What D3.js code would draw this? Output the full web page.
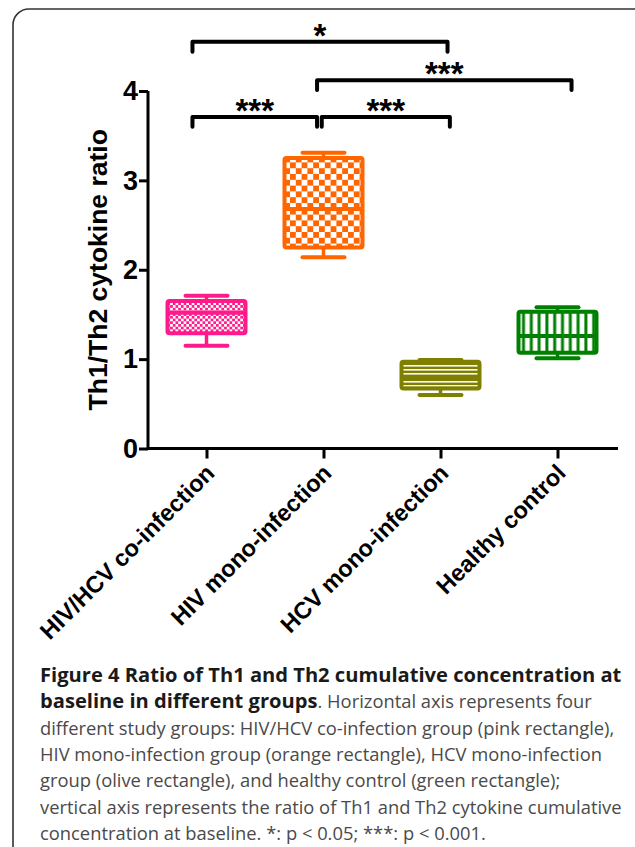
<!DOCTYPE html>
<html><head><meta charset="utf-8">
<script src="https://cdn.jsdelivr.net/npm/d3@7"></script>
<style>body{margin:0;background:#fff}svg{display:block}</style>
</head><body><svg id="c" width="635" height="847"></svg>
<script>
const categories = ["HIV/HCV co-infection","HIV mono-infection","HCV mono-infection","Healthy control"];
const mins    = [1.15, 2.14, 0.60, 1.01];
const q1s     = [1.29, 2.25, 0.67, 1.07];
const medians = [1.52, 2.68, 0.80, 1.26];
const q3s     = [1.65, 3.25, 0.97, 1.53];
const maxs    = [1.71, 3.31, 0.99, 1.58];
const colors  = ["#ff1a8c","#ff6600","#808000","#008000"];
const patterns = ["fineCheck","bigCheck","hLines","vLines"];
const yTicks = [0,1,2,3,4];
const yLabel = "Th1/Th2 cytokine ratio";
// significance brackets: from/to in category units, level in y units
const brFrom  = [-0.12, 0.945, -0.12, 0.985];
const brTo    = [2.06, 3.12, 0.945, 2.08];
const brLevel = [4.55, 4.12, 3.71, 3.71];
const brLabel = ["*","***","***","***"];

const svg = d3.select("#c");
// frame
svg.append("rect").attr("x",13).attr("y",9).attr("width",660).attr("height",900)
  .attr("rx",16).attr("fill","none").attr("stroke","#333").attr("stroke-width",1.6);

const y = d3.scaleLinear().domain([0,4]).range([448.5,91]);
const xi = d3.scaleLinear().domain([-0.5,3.5]).range([148,616]);
const x = d3.scalePoint().domain(categories).range([148,616]).padding(0.5);

// patterns
const defs = svg.append("defs");
function pat(id, w, h){ return defs.append("pattern").attr("id",id).attr("patternUnits","userSpaceOnUse").attr("width",w).attr("height",h); }
let p = pat("fineCheck",5.4,5.4);
p.append("rect").attr("width",5.4).attr("height",5.4).attr("fill","#fff");
p.append("rect").attr("width",2.7).attr("height",2.7).attr("fill",colors[0]);
p.append("rect").attr("x",2.7).attr("y",2.7).attr("width",2.7).attr("height",2.7).attr("fill",colors[0]);
p = pat("bigCheck",11.6,11.6);
p.append("rect").attr("width",11.6).attr("height",11.6).attr("fill","#fff");
p.append("rect").attr("width",5.8).attr("height",5.8).attr("fill",colors[1]);
p.append("rect").attr("x",5.8).attr("y",5.8).attr("width",5.8).attr("height",5.8).attr("fill",colors[1]);
p = pat("hLines",10,4);
p.append("rect").attr("width",10).attr("height",4).attr("fill",colors[2]);
p.append("rect").attr("y",1).attr("width",10).attr("height",1.6).attr("fill","#fff");
p = pat("vLines",7.8,10);
p.append("rect").attr("width",7.8).attr("height",10).attr("fill",colors[3]);
p.append("rect").attr("x",2.4).attr("width",4.8).attr("height",10).attr("fill","#fff");

// boxes
const bw = 78, cw = 42;
categories.forEach((c,i)=>{
  const g = svg.append("g");
  const cx = x(c), col = colors[i];
  g.append("line").attr("x1",cx).attr("x2",cx).attr("y1",y(maxs[i])).attr("y2",y(q3s[i]))
    .attr("stroke",col).attr("stroke-width",3.5);
  g.append("line").attr("x1",cx).attr("x2",cx).attr("y1",y(q1s[i])).attr("y2",y(mins[i]))
    .attr("stroke",col).attr("stroke-width",3.5);
  [maxs[i],mins[i]].forEach(v=>g.append("line").attr("x1",cx-cw/2).attr("x2",cx+cw/2)
    .attr("y1",y(v)).attr("y2",y(v)).attr("stroke",col).attr("stroke-width",4).attr("stroke-linecap","round"));
  g.append("rect").attr("x",cx-bw/2).attr("y",y(q3s[i])).attr("width",bw).attr("height",y(q1s[i])-y(q3s[i]))
    .attr("fill",`url(#${patterns[i]})`).attr("stroke",col).attr("stroke-width",4).attr("rx",2);
  g.append("line").attr("x1",cx-bw/2).attr("x2",cx+bw/2).attr("y1",y(medians[i])).attr("y2",y(medians[i]))
    .attr("stroke",col).attr("stroke-width",4);
});

// axes
const font = "'Liberation Sans', Arial, sans-serif";
const yAxis = svg.append("g").attr("transform","translate(148,0)")
  .call(d3.axisLeft(y).tickValues(yTicks).tickSize(9).tickPadding(1).tickFormat(d3.format("d")));
yAxis.select(".domain").attr("d",`M0,${y(4)}V${y(0)}`).attr("stroke","#000").attr("stroke-width",3);
yAxis.selectAll(".tick line").attr("stroke","#000").attr("stroke-width",3);
yAxis.selectAll(".tick text").attr("font-family",font).attr("font-weight","bold").attr("font-size",27).attr("fill","#000");

const xAxis = svg.append("g").attr("transform",`translate(0,${y(0)})`)
  .call(d3.axisBottom(x).tickSize(10).tickFormat(""));
xAxis.select(".domain").attr("d",`M147,0H618`).attr("stroke","#000").attr("stroke-width",3);
xAxis.selectAll(".tick line").attr("stroke","#000").attr("stroke-width",3);
xAxis.selectAll(".tick").append("text")
  .attr("transform","translate(9,26) rotate(-45)")
  .attr("text-anchor","end").attr("font-family",font).attr("font-weight","bold").attr("font-size",23.5)
  .attr("fill","#000").text(d=>d);

svg.append("text").attr("transform",`translate(107,${(y(0)+y(4))/2}) rotate(-90)`)
  .attr("text-anchor","middle").attr("font-family",font).attr("font-weight","bold").attr("font-size",26.5)
  .text(yLabel);

// brackets
const tick = 0.11;
brLabel.forEach((lab,i)=>{
  const x1 = xi(brFrom[i]), x2 = xi(brTo[i]), yy = y(brLevel[i]), yd = y(brLevel[i]-tick);
  svg.append("path").attr("d",`M${x1},${yd}V${yy}H${x2}V${yd}`).attr("fill","none")
    .attr("stroke","#000").attr("stroke-width",4).attr("stroke-linecap","round").attr("stroke-linejoin","round");
  svg.append("text").attr("x",(x1+x2)/2).attr("y",yy+5).attr("text-anchor","middle")
    .attr("font-family",font).attr("font-weight","bold").attr("font-size",33).text(lab);
});

// caption
const capFont = "'Open Sans', sans-serif";
const capLines = [
  [["Figure 4 Ratio of Th1 and Th2 cumulative concentration at",true]],
  [["baseline in different groups",true],[". Horizontal axis represents four",false]],
  [["different study groups: HIV/HCV co-infection group (pink rectangle),",false]],
  [["HIV mono-infection group (orange rectangle), HCV mono-infection",false]],
  [["group (olive rectangle), and healthy control (green rectangle);",false]],
  [["vertical axis represents the ratio of Th1 and Th2 cytokine cumulative",false]],
  [["concentration at baseline. *: p < 0.05; ***: p < 0.001.",false]]
];
const texts = capLines.map((ln,i)=>{
  const t = svg.append("text").attr("x",40).attr("y",682+i*26.3).attr("font-family",capFont);
  ln.forEach(([s,b])=>t.append("tspan").attr("class",b?"b":"n").attr("font-weight",b?"bold":"normal")
    .attr("font-size",b?20:19.5).attr("fill",b?"#1a1a1a":"#4a4a4a").text(s));
  return t;
});
// fit normal text so the longest lines span to the right margin
const w3 = texts[2].node().getComputedTextLength();
const w6 = texts[5].node().getComputedTextLength();
const fs = 19.5 * 582 / Math.max(w3, w6);
svg.selectAll("tspan.n").attr("font-size", fs);
const wb = texts[0].node().getComputedTextLength();
svg.selectAll("tspan.b").attr("font-size", 20 * 582 / wb);
</script></body></html>
